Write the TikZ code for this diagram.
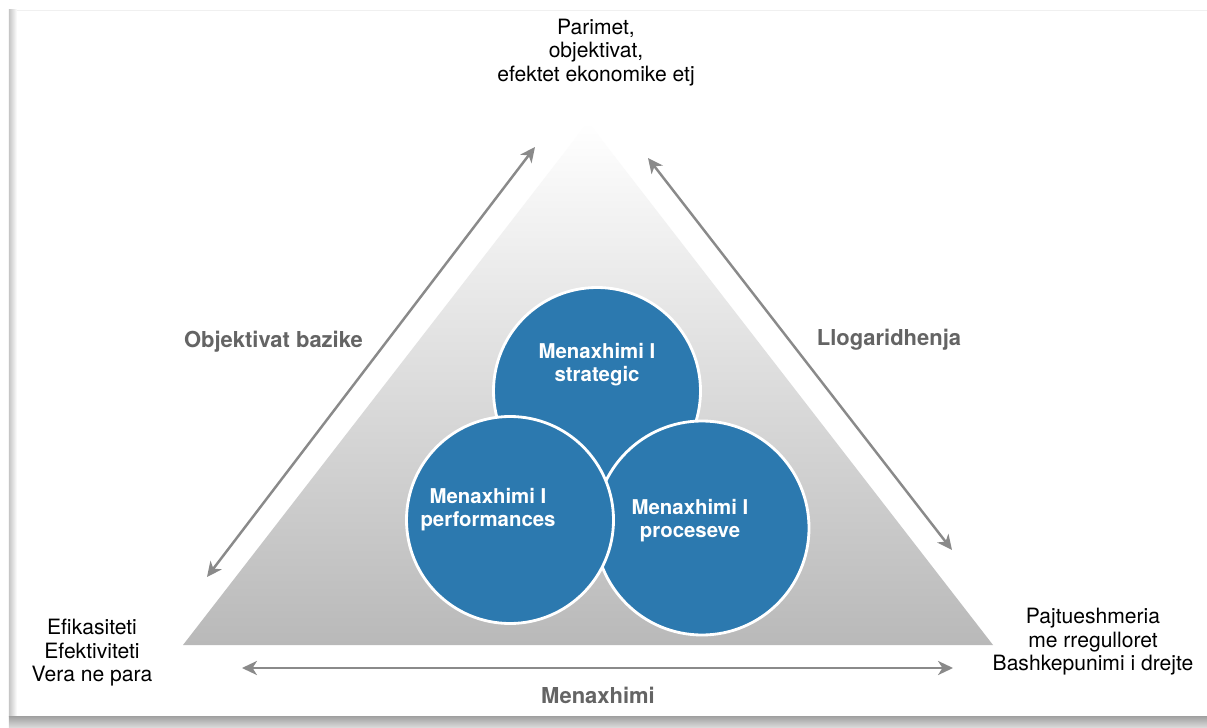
\documentclass[tikz,border=0pt]{standalone}
\usepackage{fontspec}
\setmainfont{TeX Gyre Heros}
\usetikzlibrary{arrows.meta}

\definecolor{discblue}{RGB}{44,121,175}
\definecolor{arrowgray}{RGB}{138,138,138}
\definecolor{labelgray}{RGB}{100,100,100}

\tikzset{
  disc/.style={circle, fill=discblue, draw=white, line width=1.6pt, inner sep=0pt},
  disctext/.style={text=white, font=\fontsize{11.6}{13}\selectfont\bfseries, align=center},
  sidetext/.style={text=labelgray, font=\fontsize{12.5}{14}\selectfont\bfseries},
  cornertext/.style={font=\fontsize{12}{13.4}\selectfont, align=center},
  twoway/.style={{Stealth[length=8.5pt,width=8pt,inset=2.5pt]}-{Stealth[length=8.5pt,width=8pt,inset=2.5pt]}, line width=1.4pt, draw=arrowgray}
}

\begin{document}
\begin{tikzpicture}[line cap=round,x=1.0cm,y=1.0cm]
            \useasboundingbox (0,0) rectangle (24.14,14.54);
            % sheet with its shadow
            \fill[white] (0.24,0.22) rectangle (24.3,14.34);
            \shade[left color=gray!45, right color=white] (0.18,0.22) rectangle (0.34,14.34);
            \shade[top color=gray!75, bottom color=gray!30] (0.18,0) rectangle (24.3,0.22);
            \draw[gray!12, line width=0.4pt] (0.34,14.34) -- (24.3,14.34);

            % pyramid
            \coordinate (apex) at (11.76,12.10);
            \coordinate (bl) at (3.66,1.64);
            \coordinate (br) at (19.86,1.64);
            \shade[top color=white, bottom color=gray!55] (apex) -- (bl) -- (br) -- cycle;

            % arrows along the sides
            \coordinate (l1) at (4.14,3.00);
            \coordinate (l2) at (10.70,11.60);
            \coordinate (r1) at (12.96,11.38);
            \coordinate (r2) at (19.04,3.54);
            \coordinate (b1) at (4.84,1.18);
            \coordinate (b2) at (19.06,1.18);
            \draw[twoway] (l1) -- (l2);
            \draw[twoway] (r1) -- (r2);
            \draw[twoway] (b1) -- (b2);

            % the three circles
            \node[disc, minimum size=4.14cm] (strat) at (11.94,6.72) {};
            \node[disc, minimum size=4.28cm] (proc) at (14.04,3.98) {};
            \node[disc, minimum size=4.14cm] (perf) at (10.20,4.14) {};
            \node[disctext] (strattxt) at ([yshift=0.52cm]strat.center) {Menaxhimi I\\strategic};
            \node[disctext] (perftxt) at ([xshift=-0.44cm,yshift=0.2cm]perf.center) {Menaxhimi I\\performances};
            \node[disctext] (proctxt) at ([xshift=-0.24cm,yshift=0.14cm]proc.center) {Menaxhimi I\\proceseve};

            % side labels
            \node[sidetext] (objl) at (5.47,7.70) {Objektivat bazike};
            \node[sidetext] (llog) at (17.78,7.74) {Llogaridhenja};
            \node[sidetext] (men) at (11.96,0.64) {Menaxhimi};

            % corner labels
            \node[cornertext] (top) at (11.92,13.49) {Parimet,\\objektivat,\\efektet ekonomike etj};
            \node[cornertext] (left) at (1.84,1.48) {Efikasiteti\\Efektiviteti\\Vera ne para};
            \node[cornertext] (right) at (21.86,1.70) {Pajtueshmeria\\me rregulloret\\Bashkepunimi i drejte};
            \end{tikzpicture}
\end{document}
